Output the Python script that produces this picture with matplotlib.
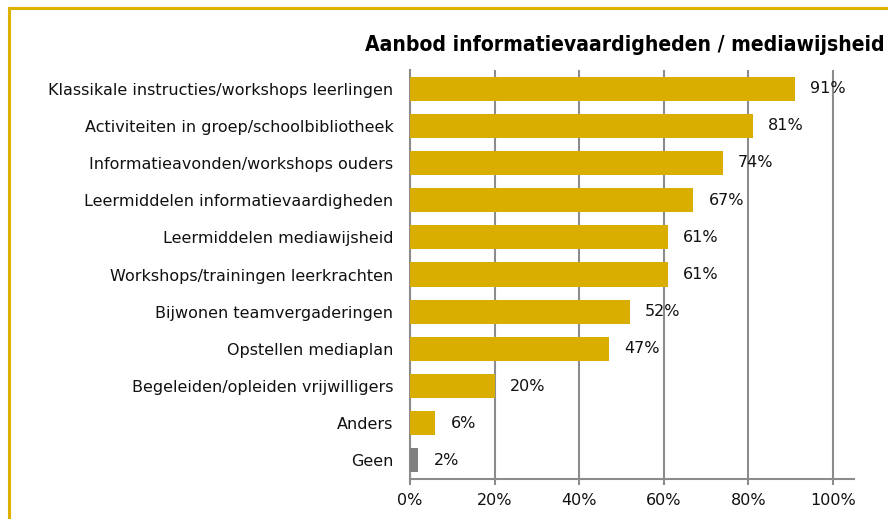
import matplotlib
matplotlib.use('Agg')
import matplotlib.pyplot as plt
from matplotlib.lines import Line2D
import numpy as np

# data
categories = [
    'Klassikale instructies/workshops leerlingen',
    'Activiteiten in groep/schoolbibliotheek',
    'Informatieavonden/workshops ouders',
    'Leermiddelen informatievaardigheden',
    'Leermiddelen mediawijsheid',
    'Workshops/trainingen leerkrachten',
    'Bijwonen teamvergaderingen',
    'Opstellen mediaplan',
    'Begeleiden/opleiden vrijwilligers',
    'Anders',
    'Geen',
]
values = [91, 81, 74, 67, 61, 61, 52, 47, 20, 6, 2]
xticks = [0, 20, 40, 60, 80, 100]
title = 'Aanbod informatievaardigheden / mediawijsheid'

GOLD = '#D9AE00'
GREY_BAR = '#808080'
GRID = '#8C8C8C'
FS = 11.5

fig = plt.figure(figsize=(8.88, 5.19), dpi=100)
ax = fig.add_axes([410 / 888, 1 - 479 / 519, 444 / 888, 409 / 519])

y = np.arange(len(categories))
colors = [GOLD] * (len(categories) - 1) + [GREY_BAR]
ax.barh(y, values, height=0.65, color=colors, zorder=3)

for yi, v in zip(y, values):
    ax.annotate(f'{v}%', xy=(v, yi), xytext=(11, 0), textcoords='offset points',
                va='center', ha='left', fontsize=FS, color='#111111', zorder=4)

ax.set_ylim(len(categories) - 0.5, -0.5)
ax.set_xlim(0, 105)
ax.set_yticks(y)
ax.set_yticklabels(categories, fontsize=FS, color='#111111')
ax.tick_params(axis='y', length=0, pad=12)
ax.set_xticks(xticks)
ax.set_xticklabels([f'{t}%' for t in xticks], fontsize=FS, color='#111111')
ax.tick_params(axis='x', length=4, width=1.5, color=GRID, pad=6)

ax.grid(axis='x', color=GRID, linewidth=1.5, zorder=0)
ax.set_axisbelow(True)
for s in ['top', 'right']:
    ax.spines[s].set_visible(False)
for s in ['left', 'bottom']:
    ax.spines[s].set_color(GRID)
    ax.spines[s].set_linewidth(1.5)

fig.text(885 / 888, 1 - 45 / 519, title, ha='right', va='center',
         fontsize=15.1, fontweight='bold', fontstretch='condensed',
         family='DejaVu Sans', color='#000000')

# gold frame on left and top
fig.add_artist(Line2D([9 / 888, 9 / 888], [0, 1 - 8 / 519], color='#DDB100', linewidth=2.2,
                      transform=fig.transFigure))
fig.add_artist(Line2D([9 / 888, 1], [1 - 8 / 519, 1 - 8 / 519], color='#DDB100', linewidth=2.2,
                      transform=fig.transFigure))

fig.savefig('out.png', dpi=100, facecolor='white')
